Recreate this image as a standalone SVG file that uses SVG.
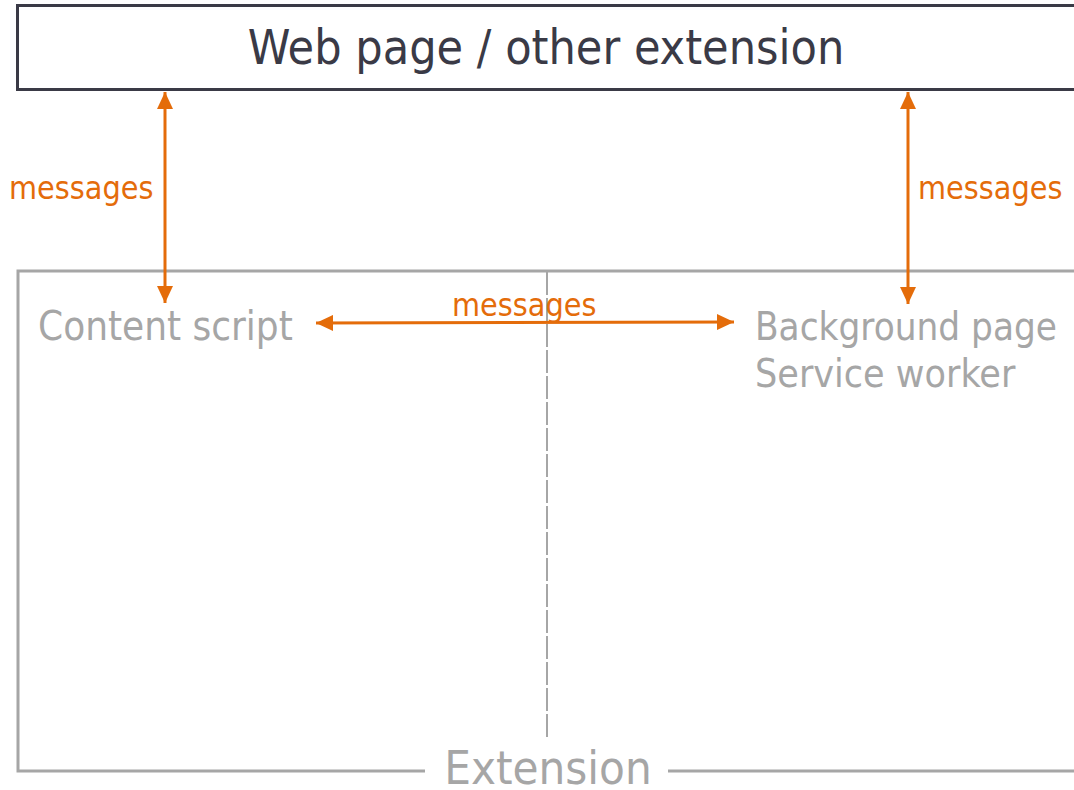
<svg xmlns="http://www.w3.org/2000/svg" width="1074" height="790" viewBox="0 0 1074 790">
<style>
.t{font-family:"DejaVu Sans Condensed","DejaVu Sans",sans-serif;}
.gray{fill:#a6a6a6;}
.msg{fill:#e46c0a;font-size:32px;}
.conn{stroke:#e46c0a;stroke-width:3;fill:none;}
</style>
<defs>
<marker id="ah" viewBox="0 0 17 16" refX="17" refY="8" markerWidth="17" markerHeight="16" markerUnits="userSpaceOnUse" orient="auto-start-reverse">
<path d="M0,0 L17,8 L0,16 Z" fill="#e46c0a"/>
</marker>
</defs>
<rect width="1074" height="790" fill="#fff"/>
<g id="webpage">
<rect x="17.5" y="5.5" width="1100" height="84" fill="#fff" stroke="#3a3a46" stroke-width="3"/>
<text class="t" x="546" y="64" text-anchor="middle" font-size="48" fill="#3a3a46">Web page / other extension</text>
</g>
<g id="extension">
<path d="M425,771 H18 V271 H1080 M668,771 H1080" fill="none" stroke="#a6a6a6" stroke-width="3"/>
<line x1="547" y1="272" x2="547" y2="737" stroke="#a6a6a6" stroke-width="2" stroke-dasharray="23,3"/>
<text class="t gray" x="548" y="784" text-anchor="middle" font-size="47">Extension</text>
</g>
<g id="content-script">
<text class="t gray" x="38" y="340" font-size="40">Content script</text>
</g>
<g id="background">
<text class="t gray" x="755" y="340" font-size="39" textLength="302" lengthAdjust="spacingAndGlyphs">Background page</text>
<text class="t gray" x="755" y="387" font-size="39">Service worker</text>
</g>
<g id="connectors">
<line class="conn" x1="165" y1="92" x2="165" y2="303" marker-start="url(#ah)" marker-end="url(#ah)"/>
<line class="conn" x1="908" y1="92" x2="908" y2="304" marker-start="url(#ah)" marker-end="url(#ah)"/>
<line class="conn" x1="316" y1="323" x2="734" y2="322" marker-start="url(#ah)" marker-end="url(#ah)"/>
<text class="t msg" x="9" y="199">messages</text>
<text class="t msg" x="918" y="199">messages</text>
<text class="t msg" x="452" y="316">messages</text>
</g>
</svg>
